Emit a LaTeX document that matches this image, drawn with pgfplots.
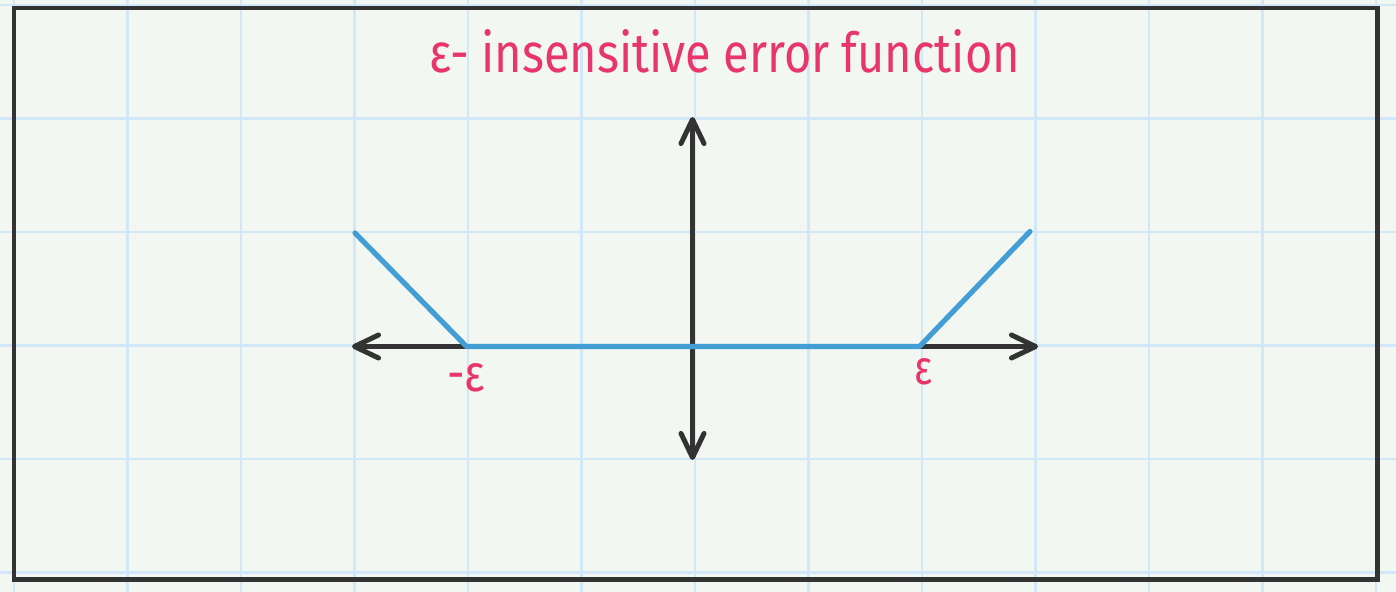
\documentclass[border=0pt]{standalone}
\usepackage{pgfplots}
\pgfplotsset{compat=1.18}
\usepackage{fontspec}
\setmainfont{Fira Sans}
\usetikzlibrary{arrows.meta}
\definecolor{bgc}{HTML}{F2F7F2}
\definecolor{gridc}{HTML}{D2E7F8}
\definecolor{inkc}{HTML}{333333}
\definecolor{bluec}{HTML}{449ED6}
\definecolor{pinkc}{HTML}{E8356A}
\begin{document}
\begin{tikzpicture}
\begin{axis}[
  scale only axis, width=698pt, height=296pt,
  xmin=0, xmax=1396, ymin=0, ymax=592, y dir=reverse,
  axis line style={draw=none},
  axis background/.style={fill=bgc},
  xtick={14,127.5,241,354.5,468,581.5,695,808.5,922,1035.5,1149,1262.5,1376},
  ytick={5,118.5,232,345.5,459,572.5},
  xticklabels={}, yticklabels={},
  ticklabel style={inner sep=0pt},
  major tick length=0pt,
  grid=major,
  major grid style={gridc, line width=1.2pt},
  clip=false,
]
% frame
\addplot[inkc, line width=2.3pt, line join=miter] coordinates {(14,8) (1377.5,8) (1377.5,579.5) (14,579.5)} -- cycle;
% axes arrows
\addplot[inkc, line width=2.5pt, line cap=round, {Straight Barb[length=12pt,width=11.5pt,line cap=round,line join=round]}-{Straight Barb[length=12pt,width=11.5pt,line cap=round,line join=round]}] coordinates {(352,346.5) (1038,346.5)};
\addplot[inkc, line width=2.5pt, line cap=round, {Straight Barb[length=12pt,width=11.5pt,line cap=round,line join=round]}-{Straight Barb[length=12pt,width=11.5pt,line cap=round,line join=round]}] coordinates {(692.5,117) (692.5,460)};
% epsilon-insensitive loss
\addplot[bluec, line width=2.6pt, line cap=round, line join=round] coordinates {(355,233) (466.5,346.5) (919.5,346.5) (1030,231.5)};
% labels
\node[pinkc, anchor=south, inner sep=0pt] at (axis cs:725,74) {\resizebox{295pt}{21.5pt}{\fontsize{22pt}{26pt}\selectfont ε- insensitive error function}};
\node[pinkc, anchor=center, inner sep=0pt] at (axis cs:466,378) {\resizebox{19pt}{14pt}{\fontsize{20pt}{24pt}\selectfont -ε}};
\node[pinkc, anchor=center, inner sep=0pt] at (axis cs:923,372) {\resizebox{9pt}{13pt}{\fontsize{20pt}{24pt}\selectfont ε}};
\end{axis}
\pgfresetboundingbox
\path[use as bounding box] (current axis.south west) rectangle (current axis.north east);
\end{tikzpicture}
\end{document}
